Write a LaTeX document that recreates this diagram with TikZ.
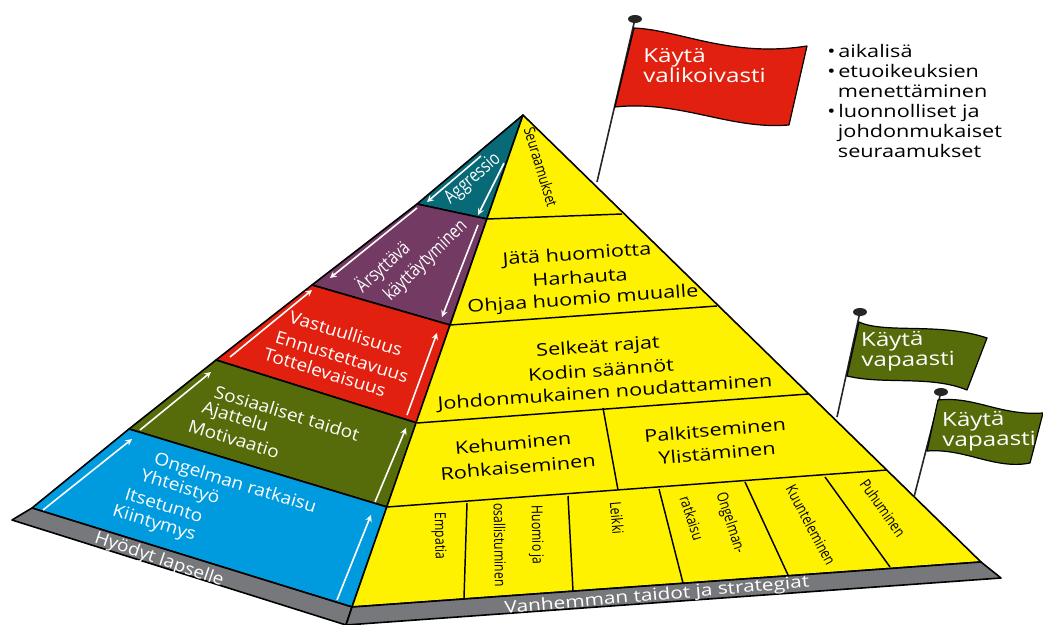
\documentclass[tikz,border=0pt]{standalone}
\usepackage{fontspec}
\setmainfont[FakeStretch=1.1]{Open Sans}
\newfontfamily\widefont[FakeStretch=1.25]{Open Sans}
\newfontfamily\narrowfont[FakeStretch=0.8]{Open Sans}
\usepackage{xcolor}
\usetikzlibrary{shapes,arrows}
\definecolor{kidblue}{RGB}{0,155,222}
\definecolor{kidgreen}{RGB}{86,107,10}
\definecolor{kidred}{RGB}{226,32,15}
\definecolor{kidpurple}{RGB}{115,58,99}
\definecolor{kidteal}{RGB}{8,106,119}
\definecolor{baseyellow}{RGB}{255,242,0}
\definecolor{basegray}{RGB}{119,120,123}
\tikzset{
  band/.style={draw=black,line width=1.2pt,line join=round},
  divider/.style={draw=black,line width=1.1pt},
  uparrow/.style={draw=white,line width=1.2pt,-stealth},
  pole/.style={draw=black!85,line width=1.2pt},
  knob/.style={fill=black!85},
  flagcloth/.style={draw=black,line width=0.9pt,line join=round},
  whitetext/.style={text=white,font=\fontsize{13}{15}\selectfont,inner sep=0pt},
  steeptext/.style={text=white,font=\narrowfont\fontsize{14}{15}\selectfont,inner sep=0pt},
  striptext/.style={text=white,font=\widefont\fontsize{12.5}{15}\selectfont,inner sep=0pt},
  blacktext/.style={text=black,font=\widefont\fontsize{13}{15}\selectfont,inner sep=0pt},
  smalltext/.style={text=black,font=\narrowfont\fontsize{11.5}{12}\selectfont,inner sep=0pt},
  flagtext/.style={text=white,font=\widefont\fontsize{14.5}{15}\selectfont,inner sep=0pt},
}

\begin{document}
\begin{tikzpicture}[x=0.75pt,y=0.75pt,yscale=-1]
\useasboundingbox (0,0) rectangle (1043,625);

%Corners of the pyramid
\coordinate (apex) at (523,115);
\coordinate (tealL) at (417,204);
\coordinate (tealR) at (487,219);
\coordinate (purpL) at (312,285);
\coordinate (purpR) at (450,325);
\coordinate (redL) at (216,360);
\coordinate (redR) at (417,423);
\coordinate (greenL) at (129,429);
\coordinate (greenR) at (387,507);
\coordinate (blueL) at (32,508);
\coordinate (blueR) at (352,607);
\coordinate (yellowR) at (981,562);
\coordinate (grayL) at (12,520);
\coordinate (grayB) at (346,625);
\coordinate (grayR) at (1001,578);

%Shape: left side bands
\draw [band,fill=kidteal] (apex) -- (tealR) -- (tealL) -- cycle ;
\draw [band,fill=kidpurple] (tealL) -- (tealR) -- (purpR) -- (purpL) -- cycle ;
\draw [band,fill=kidred] (purpL) -- (purpR) -- (redR) -- (redL) -- cycle ;
\draw [band,fill=kidgreen] (redL) -- (redR) -- (greenR) -- (greenL) -- cycle ;
\draw [band,fill=kidblue] (greenL) -- (greenR) -- (blueR) -- (blueL) -- cycle ;

%Shape: right side and the two gray strips
\draw [band,fill=baseyellow] (apex) -- (yellowR) -- (blueR) -- cycle ;
\draw [band,fill=basegray] (blueL) -- (blueR) -- (grayB) -- (grayL) -- cycle ;
\draw [band,fill=basegray] (blueR) -- (yellowR) -- (grayR) -- (grayB) -- cycle ;

%Straight Lines: rows on the right side
\draw [divider] (tealR) -- (622,214) ;
\draw [divider] (purpR) -- (717,306) ;
\draw [divider] (redR) -- (808,394) ;
\draw [divider] (greenR) -- (887,470) ;
\draw [divider] (603,408) -- (618,490) ;
\draw [divider] (467,503) -- (464,598) ;
\draw [divider] (568,496) -- (573,591) ;
\draw [divider] (659,489) -- (683,583) ;
\draw [divider] (745,482) -- (788,575) ;
\draw [divider] (825,477) -- (890,567) ;

%Straight Lines: white arrows
\draw [uparrow] (43,510) -- (132,439) ;
\draw [uparrow] (337,600) -- (371,515) ;
\draw [uparrow] (140,430) -- (211,372) ;
\draw [uparrow] (375,502) -- (406,428) ;
\draw [uparrow] (230,357) -- (312,290) ;
\draw [uparrow] (407,415) -- (437,333) ;
\draw [uparrow] (417,208) -- (330,278) ;
\draw [uparrow] (478,225) -- (442,317) ;
\draw [uparrow] (481,156) -- (427,202) ;
\draw [uparrow] (504,163) -- (478,215) ;

%Shape: red flag
\draw [pole] (597,182) -- (635,19) ;
\fill [knob] (635,19) ellipse (7 and 4) ;
\draw [flagcloth,fill=kidred] (634,28) .. controls (680,30) and (730,58) .. (807,46) -- (789,125) .. controls (730,130) and (680,100) .. (615,107) -- cycle ;

%Shape: first green flag
\draw [pole] (837,417) -- (860,312) ;
\fill [knob] (860,312) ellipse (7 and 4) ;
\draw [flagcloth,fill=kidgreen] (859,322) .. controls (885,334) and (940,322) .. (987,338) -- (967,390) .. controls (930,375) and (885,385) .. (847,376) -- cycle ;

%Shape: second green flag
\draw [pole] (914,497) -- (941,392) ;
\fill [knob] (941,392) ellipse (7 and 4) ;
\draw [flagcloth,fill=kidgreen] (938,400) .. controls (975,396) and (1000,416) .. (1043,413) -- (1030,463) .. controls (995,470) and (965,448) .. (927,451) -- cycle ;

% Text Node
\node (aggressio) at (473,179) [steeptext,rotate=41] {Aggressio};
\node (arsyttava) at (383,267) [steeptext,rotate=42] {Ärsyttävä};
\node (kayttaytyminen) at (426,261) [steeptext,rotate=44] {käyttäytyminen};
\node (vastuu) at (346,333) [whitetext,rotate=-17] {Vastuullisuus};
\node (ennuste) at (342,357) [whitetext,rotate=-17] {Ennustettavuus};
\node (totteli) at (325,372) [whitetext,rotate=-17] {Tottelevaisuus};
\node (sosiaali) at (287,413) [whitetext,rotate=-17] {Sosiaaliset taidot};
\node (ajattelu) at (235,418) [whitetext,rotate=-17] {Ajattelu};
\node (motivaatio) at (234,439) [whitetext,rotate=-17] {Motivaatio};
\node (ongelma) at (235,484) [whitetext,rotate=-17] {Ongelman ratkaisu};
\node (yhteistyo) at (180,488) [whitetext,rotate=-17] {Yhteistyö};
\node (itsetunto) at (164,505) [whitetext,rotate=-17] {Itsetunto};
\node (kiintymys) at (154,524) [whitetext,rotate=-17] {Kiintymys};
\node (hyodyt) at (159,560) [whitetext,rotate=-19] {Hyödyt lapselle};
\node (vanhempi) at (657,596) [striptext,rotate=5] {Vanhemman taidot ja strategiat};

% Text Node
\node (seuraamukset) at (541,167) [smalltext,rotate=-73] {Seuraamukset};
\node (jata) at (577,255) [blacktext,rotate=4] {Jätä huomiotta};
\node (harhauta) at (580,277) [blacktext,rotate=4] {Harhauta};
\node (ohjaa) at (583,300) [blacktext,rotate=4] {Ohjaa huomio muualle};
\node (selkeat) at (598,348) [blacktext,rotate=4] {Selkeät rajat};
\node (kodin) at (601,370) [blacktext,rotate=4] {Kodin säännöt};
\node (johdon) at (605,393) [blacktext,rotate=4] {Johdonmukainen noudattaminen};
\node (kehuminen) at (513,443) [blacktext,rotate=5] {Kehuminen};
\node (rohkaisu) at (518,467) [blacktext,rotate=5] {Rohkaiseminen};
\node (palkitse) at (715,430) [blacktext,rotate=5] {Palkitseminen};
\node (ylistys) at (717,453) [blacktext,rotate=5] {Ylistäminen};
\node (empatia) at (439,536) [smalltext,rotate=-89] {Empatia};
\node (huomio) at (536,535) [smalltext,rotate=-89] {Huomio ja};
\node (osallistu) at (500,545) [smalltext,rotate=-89] {osallistuminen};
\node (leikki) at (617,518) [smalltext,rotate=-85] {Leikki};
\node (ongelman) at (730,523) [smalltext,rotate=-72] {Ongelman-};
\node (ratkaisu) at (692,518) [smalltext,rotate=-72] {ratkaisu};
\node (kuuntelu) at (811,525) [smalltext,rotate=-62] {Kuunteleminen};
\node (puhuminen) at (883,508) [smalltext,rotate=-55] {Puhuminen};

% Text Node
\node (flagone) at (643,66) [flagtext,anchor=west,align=left] {Käytä\\valikoivasti};
\node (flagtwo) at (861,352) [flagtext,anchor=west,align=left,rotate=1] {Käytä\\vapaasti};
\node (flagthree) at (942,432) [flagtext,anchor=west,align=left,rotate=1] {Käytä\\vapaasti};
\node (keinot) at (827,44) [anchor=north west,inner sep=0pt,align=left,text=black,font=\widefont\fontsize{13}{15}\selectfont] {\textbullet\,aikalisä\\\textbullet\,etuoikeuksien\\\hspace*{8pt}menettäminen\\\textbullet\,luonnolliset ja\\\hspace*{8pt}johdonmukaiset\\\hspace*{8pt}seuraamukset};

\end{tikzpicture}
\end{document}
